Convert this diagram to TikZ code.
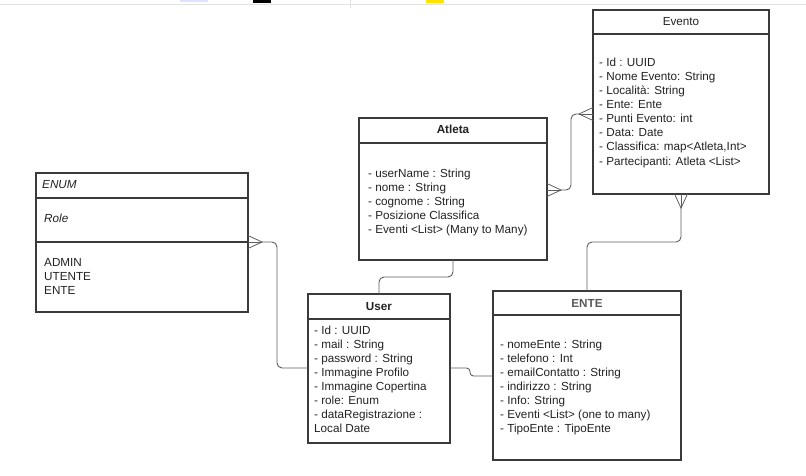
\documentclass[tikz,border=0pt]{standalone}
\usepackage{fontspec}
\setmainfont{Liberation Sans}
\usetikzlibrary{positioning}

\definecolor{boxline}{HTML}{3A3A3A}
\definecolor{connline}{HTML}{5E5E5E}
\definecolor{txt}{HTML}{222222}
\definecolor{topline}{HTML}{E2E2E2}

\begin{document}
\begin{tikzpicture}[x = 1pt, y = -1pt,
		classbox/.style = {draw = boxline, line width = 1.2pt, inner sep = 0pt, outer sep = 0pt, anchor = north west},
		divider/.style = {draw = boxline, line width = 1.2pt},
		title/.style = {anchor = base, inner sep = 0pt, font = \fontsize{11.7}{14}\selectfont\bfseries, text = txt},
		attr/.style = {anchor = base west, inner sep = 0pt, font = \fontsize{11.7}{14}\selectfont, text = txt},
		conn/.style = {draw = connline, line width = 0.9pt, rounded corners = 5pt},
		crow/.pic = {
			\draw [connline, line width = 0.8pt] (0, -6.5) -- (14, 0) -- (0, 6.5);
			\draw [connline, line width = 0.8pt] (0, 0) -- (14, 0);
			\coordinate (-tip) at (14, 0);
		}]
	\useasboundingbox (0, 0) rectangle (806, 476);

	% window strip at the top
	\draw [topline, line width = 1pt] (0, 5) -- (806, 5);
	\draw [topline, line width = 1pt] (350, 0) -- (350, 8);
	\fill [blue!12] (180, 0) rectangle (208, 2);
	\fill [black] (253, 0) rectangle (271, 3);
	\fill [yellow!85!orange] (426, 0) rectangle (444, 3);

	% Evento
	\node [classbox, minimum width = 176pt, minimum height = 184pt] (evento) at (593, 10) {};
	\draw [divider] (evento.west |- 0, 34) -- (evento.east |- 0, 34);
	\node [title, font = \fontsize{11.7}{14}\selectfont] (eventoTitle) at (681, 26) {Evento};
	\foreach \t [count = \i from 0] in {- Id : UUID, - Nome Evento: String, - Località: String, - Ente: Ente, - Punti Evento: int, - Data: Date, {- Classifica: map<Atleta,Int>}, - Partecipanti: Atleta <List>}
		\node [attr] (evento\i) at (599, {67 + 14*\i}) {\t};

	% Atleta
	\node [classbox, minimum width = 188pt, minimum height = 142pt] (atleta) at (359, 118) {};
	\draw [divider] (atleta.west |- 0, 143) -- (atleta.east |- 0, 143);
	\node [title] (atletaTitle) at (453, 134) {Atleta};
	\foreach \t [count = \i from 0] in {- userName : String, - nome : String, - cognome : String, - Posizione Classifica, - Eventi <List> (Many to Many)}
		\node [attr] (atleta\i) at (368, {177 + 14*\i}) {\t};

	% ENUM Role
	\node [classbox, minimum width = 212pt, minimum height = 139pt] (role) at (36, 173) {};
	\draw [divider] (role.west |- 0, 198) -- (role.east |- 0, 198);
	\draw [divider] (role.west |- 0, 242) -- (role.east |- 0, 242);
	\node [attr, font = \fontsize{11.7}{14}\selectfont\itshape] (roleHead) at (42, 189) {ENUM};
	\node [attr, font = \fontsize{11.7}{14}\selectfont\itshape] (roleName) at (44, 222) {Role};
	\foreach \t [count = \i from 0] in {ADMIN, UTENTE, ENTE}
		\node [attr] (role\i) at (44, {266 + 14*\i}) {\t};

	% User
	\node [classbox, minimum width = 142pt, minimum height = 149pt] (user) at (308, 294) {};
	\draw [divider] (user.west |- 0, 319) -- (user.east |- 0, 319);
	\node [title] (userTitle) at (379, 310) {User};
	\foreach \t [count = \i from 0] in {- Id : UUID, - mail : String, - password : String, - Immagine Profilo, - Immagine Copertina, - role: Enum, - dataRegistrazione :, Local Date}
		\node [attr] (user\i) at (314, {334 + 14*\i}) {\t};

	% ENTE
	\node [classbox, minimum width = 188pt, minimum height = 169pt] (ente) at (493, 291) {};
	\draw [divider] (ente.west |- 0, 315) -- (ente.east |- 0, 315);
	\node [title, text = black!65] (enteTitle) at (587, 307) {ENTE};
	\foreach \t [count = \i from 0] in {- nomeEnte : String, - telefono : Int, - emailContatto : String, - indirizzo : String, - Info: String, - Eventi <List> (one to many), - TipoEnte : TipoEnte}
		\node [attr] (ente\i) at (500, {348 + 14*\i}) {\t};

	% crow's feet
	\pic (eventoLeft) [rotate = 180] at (593, 114) {crow};
	\pic (atletaRight) at (547, 190) {crow};
	\pic (eventoDown) [rotate = -90] at (681, 194) {crow};
	\pic (roleRight) at (248, 242) {crow};

	% connectors
	\draw [conn] (eventoLeft-tip) -- (571, 114) -- (571, 190) -- (atletaRight-tip);
	\draw [conn] (eventoDown-tip) -- (681, 242) -- (587, 242) -- (ente.north -| 587, 0);
	\draw [conn] (atleta.south -| 453, 0) -- (453, 277) -- (379, 277) -- (user.north -| 379, 0);
	\draw [conn, rounded corners = 3.5pt] (user.east |- 0, 368) -- (470, 368) -- (470, 376) -- (ente.west |- 0, 376);
	\draw [conn] (roleRight-tip) -- (277, 242) -- (277, 368) -- (user.west |- 0, 368);
\end{tikzpicture}
\end{document}
